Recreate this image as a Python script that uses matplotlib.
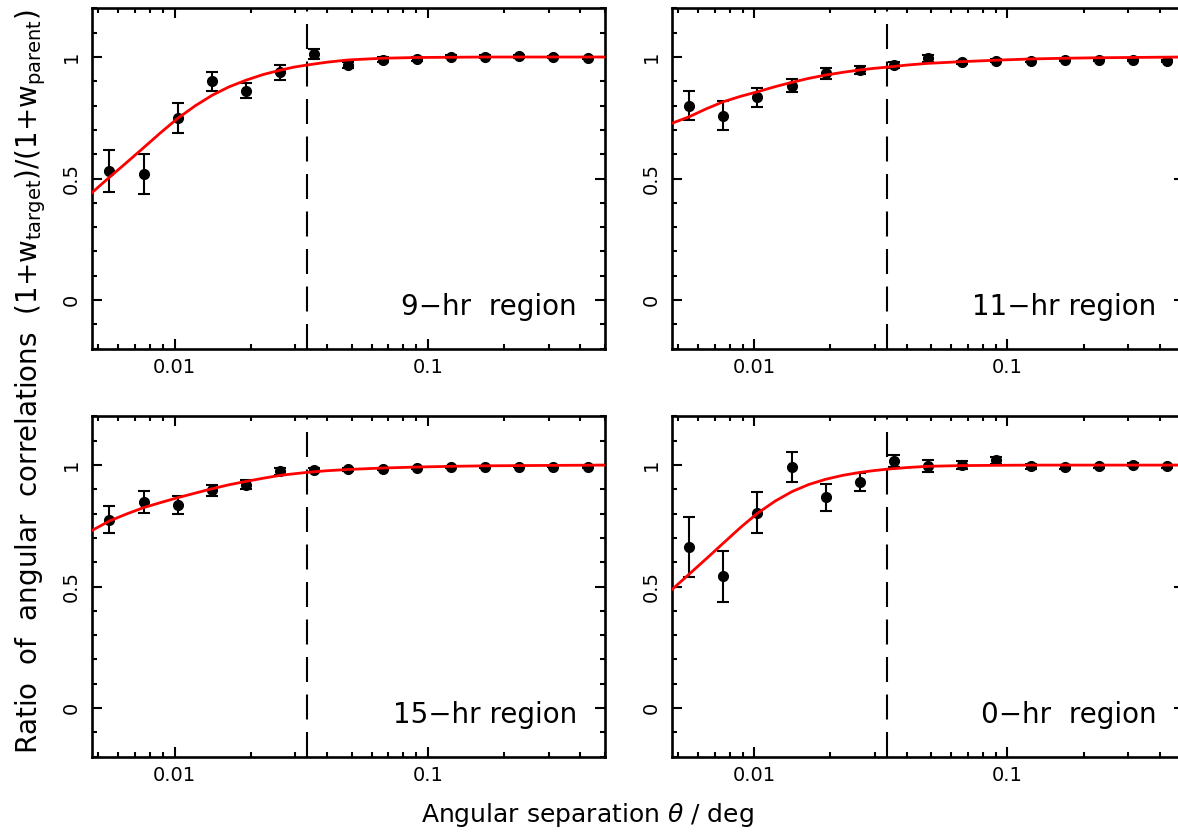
import matplotlib
matplotlib.use("Agg")
import matplotlib.pyplot as plt
from matplotlib.ticker import LogLocator, MultipleLocator, NullFormatter

plt.rcParams["font.family"] = ["DejaVu Sans"]
plt.rcParams["mathtext.fontset"] = "dejavusans"

# angular bins (deg), shared by all four regions
theta = [0.00553, 0.00755, 0.0103, 0.0141, 0.0192, 0.0262, 0.0356, 0.0486,
         0.0664, 0.0905, 0.124, 0.169, 0.230, 0.313, 0.428]

# measured ratios and errors per region
ratio_9 = [0.531, 0.517, 0.750, 0.900, 0.861, 0.937, 1.012, 0.966, 0.988,
           0.990, 1.001, 1.002, 1.003, 1.000, 0.995]
err_9 = [0.085, 0.082, 0.062, 0.040, 0.030, 0.032, 0.020, 0.012, 0.010,
         0.008, 0.007, 0.006, 0.006, 0.005, 0.005]

ratio_11 = [0.800, 0.759, 0.834, 0.882, 0.933, 0.947, 0.966, 0.994, 0.978,
            0.985, 0.985, 0.988, 0.988, 0.988, 0.984]
err_11 = [0.060, 0.058, 0.040, 0.026, 0.022, 0.017, 0.013, 0.013, 0.007,
          0.006, 0.005, 0.005, 0.004, 0.004, 0.004]

ratio_15 = [0.776, 0.848, 0.837, 0.896, 0.919, 0.974, 0.981, 0.982, 0.983,
            0.988, 0.992, 0.992, 0.994, 0.994, 0.992]
err_15 = [0.055, 0.044, 0.037, 0.024, 0.018, 0.013, 0.008, 0.006, 0.005,
          0.005, 0.004, 0.004, 0.003, 0.003, 0.003]

ratio_0 = [0.663, 0.543, 0.804, 0.992, 0.868, 0.930, 1.017, 0.995, 1.002,
           1.019, 0.995, 0.993, 0.996, 1.002, 0.995]
err_0 = [0.123, 0.105, 0.084, 0.062, 0.055, 0.038, 0.025, 0.024, 0.016,
         0.015, 0.010, 0.008, 0.006, 0.006, 0.005]

theta_fit = [0.00472, 0.00553, 0.00647, 0.00755, 0.00882, 0.0103, 0.0121,
             0.0141, 0.0164, 0.0192, 0.0224, 0.0262, 0.0295, 0.0333, 0.0402,
             0.0486, 0.0664, 0.0905, 0.124, 0.169, 0.230, 0.5]
fit_9 = [0.442, 0.505, 0.566, 0.627, 0.689, 0.748, 0.800, 0.843, 0.877,
         0.905, 0.928, 0.946, 0.958, 0.967, 0.979, 0.988, 0.995, 0.998,
         0.999, 1.0, 1.0, 1.0]
fit_11 = [0.727, 0.754, 0.787, 0.816, 0.838, 0.857, 0.878, 0.896, 0.912,
          0.926, 0.937, 0.947, 0.953, 0.958, 0.967, 0.974, 0.981, 0.987,
          0.992, 0.995, 0.997, 1.0]
fit_15 = [0.731, 0.770, 0.799, 0.825, 0.846, 0.866, 0.885, 0.903, 0.919,
          0.933, 0.946, 0.958, 0.964, 0.970, 0.977, 0.982, 0.988, 0.992,
          0.995, 0.997, 0.998, 1.0]
fit_0 = [0.487, 0.551, 0.615, 0.679, 0.743, 0.802, 0.852, 0.891, 0.920,
         0.942, 0.958, 0.970, 0.977, 0.983, 0.990, 0.995, 0.998, 0.999,
         1.0, 1.0, 1.0, 1.0]

theta_cut = 0.0333  # 2 arcmin

regions = ["9\u2212hr  region", "11\u2212hr region", "15\u2212hr region", "0\u2212hr  region"]
ratios = [ratio_9, ratio_11, ratio_15, ratio_0]
errs = [err_9, err_11, err_15, err_0]
fits = [fit_9, fit_11, fit_15, fit_0]

fig = plt.figure(figsize=(11.78, 8.33), dpi=100)
w, h = 0.4352, 0.4084
positions = [[0.0781, 0.5815, w, h], [0.5702, 0.5815, w, h],
             [0.0781, 0.0916, w, h], [0.5702, 0.0916, w, h]]

for pos, name, r, e, f in zip(positions, regions, ratios, errs, fits):
    ax = fig.add_axes(pos)
    ax.errorbar(theta, r, yerr=e, fmt="o", color="k", ms=7, capsize=4,
                elinewidth=1.5, capthick=1.5, zorder=2)
    ax.plot(theta_fit, f, color="#ff0000", lw=2, zorder=3)
    ax.axvline(theta_cut, color="k", lw=1.5, dashes=(12, 6), zorder=1)

    ax.set_xscale("log")
    ax.set_xlim(0.00472, 0.5)
    ax.set_ylim(-0.2, 1.2)
    ax.set_xticks([0.01, 0.1])
    ax.set_xticklabels(["0.01", "0.1"])
    ax.xaxis.set_minor_locator(LogLocator(base=10, subs=range(2, 10)))
    ax.xaxis.set_minor_formatter(NullFormatter())
    ax.set_yticks([0, 0.5, 1])
    ax.set_yticklabels(["0", "0.5", "1"], rotation=90, va="center")
    ax.yaxis.set_minor_locator(MultipleLocator(0.1))

    ax.tick_params(which="both", direction="in", top=True, right=True, width=1.5)
    ax.tick_params(which="major", length=7, labelsize=14)
    ax.tick_params(which="minor", length=3.6)
    ax.tick_params(axis="x", pad=7)
    ax.tick_params(axis="y", pad=8)
    for s in ax.spines.values():
        s.set_linewidth(1.9)

    ax.text(0.946, 0.099, name, transform=ax.transAxes, ha="right",
            va="baseline", fontsize=20)

fig.text(0.4987, 0.0132, r"Angular separation $\theta$ / deg", ha="center",
         va="baseline", fontsize=18)
fig.text(0.0314, 0.542,
         r"Ratio  of  angular  correlations  (1+w$_{\rm target}$)/(1+w$_{\rm parent}$)",
         rotation=90, rotation_mode="anchor", ha="center", va="baseline",
         fontsize=20)

fig.savefig("out.png", dpi=100)
